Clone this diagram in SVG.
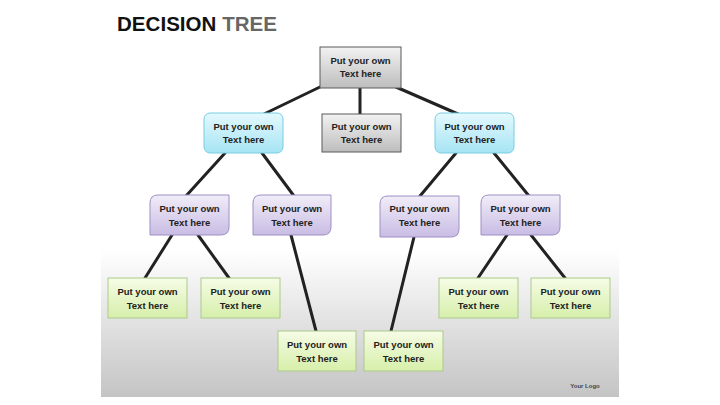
<svg xmlns="http://www.w3.org/2000/svg" width="720" height="405" viewBox="0 0 720 405">
<defs>
<linearGradient id="bg" x1="0" y1="0" x2="0" y2="1"><stop offset="0" stop-color="#ffffff"/><stop offset="1" stop-color="#c4c4c4"/></linearGradient>
<linearGradient id="gGray" x1="0" y1="0" x2="0" y2="1"><stop offset="0" stop-color="#f2f2f2"/><stop offset="1" stop-color="#bdbdbd"/></linearGradient>
<linearGradient id="gCyan" x1="0" y1="0" x2="0" y2="1"><stop offset="0" stop-color="#e4f9fd"/><stop offset="1" stop-color="#a6e4f4"/></linearGradient>
<linearGradient id="gPurp" x1="0" y1="0" x2="0" y2="1"><stop offset="0" stop-color="#f1edf8"/><stop offset="1" stop-color="#c9bce4"/></linearGradient>
<linearGradient id="gGreen" x1="0" y1="0" x2="0" y2="1"><stop offset="0" stop-color="#f6fce6"/><stop offset="1" stop-color="#d6efaa"/></linearGradient>
</defs>
<style>
.t{font-family:"Liberation Sans",Arial,sans-serif;font-weight:bold;font-size:9.5px;fill:#222;text-anchor:middle}
.gray{fill:url(#gGray);stroke:#5a5a5a;stroke-width:1}
.cyan{fill:url(#gCyan);stroke:#78cde2;stroke-width:1}
.purp{fill:url(#gPurp);stroke:#9e90c4;stroke-width:1}
.green{fill:url(#gGreen);stroke:#acc98a;stroke-width:1}
.c{stroke:#222;stroke-width:3;fill:none;stroke-linecap:round}
</style>
<rect x="0" y="0" width="720" height="405" fill="#ffffff"/>
<rect x="101" y="0" width="518" height="250" fill="#ffffff"/>
<rect x="101" y="250" width="518" height="147" fill="url(#bg)"/>
<text x="117" y="31" font-family="Liberation Sans,Arial,sans-serif" font-weight="bold" font-size="20.5" textLength="160" lengthAdjust="spacing"><tspan fill="#111">DECISION </tspan><tspan fill="#666">TREE</tspan></text>
<text x="585" y="388" font-family="Liberation Sans,Arial,sans-serif" font-weight="bold" font-size="6" fill="#444" text-anchor="middle">Your Logo</text>
<g id="connectors">
<line class="c" x1="322" y1="86" x2="264" y2="114"/>
<line class="c" x1="360" y1="88" x2="360" y2="114"/>
<line class="c" x1="396" y1="87" x2="458" y2="114"/>
<line class="c" x1="225" y1="153" x2="186" y2="196"/>
<line class="c" x1="262" y1="153" x2="294" y2="196"/>
<line class="c" x1="456" y1="153" x2="420" y2="196"/>
<line class="c" x1="494" y1="153" x2="529" y2="196"/>
<line class="c" x1="172" y1="235" x2="145" y2="278"/>
<line class="c" x1="198" y1="235" x2="229" y2="278"/>
<line class="c" x1="291" y1="235" x2="316" y2="331"/>
<line class="c" x1="414" y1="237" x2="391" y2="331"/>
<line class="c" x1="507" y1="235" x2="478" y2="278"/>
<line class="c" x1="531" y1="235" x2="565" y2="278"/>
</g>
<g id="root"><rect class="gray" x="320" y="47" width="81" height="41"/><text class="t" x="360.5" y="64">Put your own</text><text class="t" x="360.5" y="77">Text here</text></g>
<g id="mid"><rect class="gray" x="322" y="114" width="79" height="38"/><text class="t" x="361.5" y="130">Put your own</text><text class="t" x="361.5" y="143">Text here</text></g>
<g id="cyanL"><rect class="cyan" x="204" y="113" width="79" height="40" rx="6"/><text class="t" x="243.5" y="130">Put your own</text><text class="t" x="243.5" y="143">Text here</text></g>
<g id="cyanR"><rect class="cyan" x="435" y="113" width="79" height="40" rx="6"/><text class="t" x="474.5" y="130">Put your own</text><text class="t" x="474.5" y="143">Text here</text></g>
<g id="purp1"><path class="purp" d="M158 195H229V227Q229 235 221 235H150V203Q150 195 158 195Z"/><text class="t" x="189.5" y="212">Put your own</text><text class="t" x="189.5" y="226">Text here</text></g>
<g id="purp2"><path class="purp" d="M261 195H331V227Q331 235 323 235H253V203Q253 195 261 195Z"/><text class="t" x="292" y="212">Put your own</text><text class="t" x="292" y="226">Text here</text></g>
<g id="purp3"><path class="purp" d="M388 196H459V229Q459 237 451 237H380V204Q380 196 388 196Z"/><text class="t" x="419.5" y="212">Put your own</text><text class="t" x="419.5" y="226">Text here</text></g>
<g id="purp4"><path class="purp" d="M489 195H560V227Q560 235 552 235H481V203Q481 195 489 195Z"/><text class="t" x="520.5" y="212">Put your own</text><text class="t" x="520.5" y="226">Text here</text></g>
<g id="green1"><rect class="green" x="108" y="278" width="79" height="40"/><text class="t" x="147.5" y="295">Put your own</text><text class="t" x="147.5" y="309">Text here</text></g>
<g id="green2"><rect class="green" x="201" y="278" width="79" height="40"/><text class="t" x="240.5" y="295">Put your own</text><text class="t" x="240.5" y="309">Text here</text></g>
<g id="green3"><rect class="green" x="278" y="331" width="78" height="40"/><text class="t" x="317" y="348">Put your own</text><text class="t" x="317" y="362">Text here</text></g>
<g id="green4"><rect class="green" x="364" y="331" width="79" height="40"/><text class="t" x="403.5" y="348">Put your own</text><text class="t" x="403.5" y="362">Text here</text></g>
<g id="green5"><rect class="green" x="439" y="278" width="79" height="40"/><text class="t" x="478.5" y="295">Put your own</text><text class="t" x="478.5" y="309">Text here</text></g>
<g id="green6"><rect class="green" x="531" y="278" width="79" height="40"/><text class="t" x="570.5" y="295">Put your own</text><text class="t" x="570.5" y="309">Text here</text></g>
</svg>
